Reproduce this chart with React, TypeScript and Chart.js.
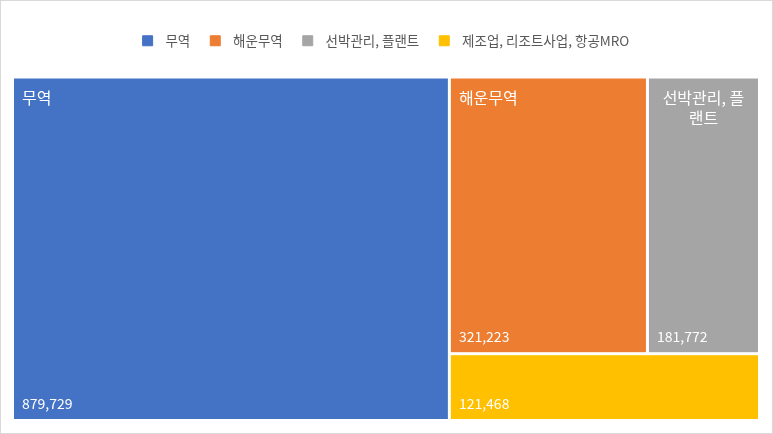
import React, { useEffect, useRef } from 'react';
import { Chart, registerables } from 'chart.js';

Chart.register(...registerables);

const categories = ['무역', '해운무역', '선박관리, 플랜트', '제조업, 리조트사업, 항공MRO'];
const values = [879729, 321223, 181772, 121468];
const colors = ['#4472C4', '#ED7D31', '#A5A5A5', '#FFC000'];
// nesting of the treemap cells; split direction alternates x, y, x ...
const groups: any[] = [[0], [[1, 2], [3]]];

const FONT = '"Noto Sans CJK KR", "Noto Sans", sans-serif';

type Cell = { i: number; x0: number; y0: number; x1: number; y1: number };

function sumNode(n: any): number {
  return typeof n === 'number' ? values[n] : n.reduce((s: number, c: any) => s + sumNode(c), 0);
}

function layout(n: any, x0: number, y0: number, x1: number, y1: number, depth: number, out: Cell[]) {
  if (typeof n === 'number') {
    out.push({ i: n, x0, y0, x1, y1 });
    return;
  }
  const total = sumNode(n);
  let acc = 0;
  n.forEach((c: any) => {
    const s = sumNode(c);
    if (depth % 2 === 0) {
      layout(c, x0 + ((x1 - x0) * acc) / total, y0, x0 + ((x1 - x0) * (acc + s)) / total, y1, depth + 1, out);
    } else {
      layout(c, x0, y0 + ((y1 - y0) * acc) / total, x1, y0 + ((y1 - y0) * (acc + s)) / total, depth + 1, out);
    }
    acc += s;
  });
}

function wrapText(ctx: CanvasRenderingContext2D, text: string, maxW: number): string[] {
  const lines: string[] = [];
  let cur = '';
  for (const ch of Array.from(text)) {
    const t = cur + ch;
    if (ctx.measureText(t).width > maxW && cur.length > 0) {
      lines.push(cur.trim());
      cur = ch.trim();
    } else {
      cur = t;
    }
  }
  if (cur) lines.push(cur.trim());
  return lines;
}

const treemapPlugin = {
  id: 'treemapCells',
  afterDatasetsDraw(chart: any) {
    const { ctx, scales } = chart;
    const xs = scales.x;
    const ys = scales.y;
    const cells: Cell[] = [];
    layout(groups, 0, 0, 1, 1, 0, cells);
    const gap = 1.5;
    ctx.save();
    cells.forEach((c) => {
      const left = xs.getPixelForValue(c.x0) + gap;
      const right = xs.getPixelForValue(c.x1) - gap;
      const top = ys.getPixelForValue(c.y0) + gap;
      const bottom = ys.getPixelForValue(c.y1) - gap;
      ctx.fillStyle = colors[c.i];
      ctx.fillRect(left, top, right - left, bottom - top);

      ctx.fillStyle = '#FFFFFF';
      // category name
      if (bottom - top > 80) {
        ctx.font = `16px ${FONT}`;
        ctx.textBaseline = 'middle';
        const lines = wrapText(ctx, categories[c.i], right - left - 16);
        lines.forEach((ln, k) => {
          const y = top + 19 + k * 20;
          if (lines.length > 1) {
            ctx.textAlign = 'center';
            ctx.fillText(ln, (left + right) / 2, y);
          } else {
            ctx.textAlign = 'left';
            ctx.fillText(ln, left + 8, y);
          }
        });
      }
      // value
      ctx.font = `14px ${FONT}`;
      ctx.textAlign = 'left';
      ctx.textBaseline = 'alphabetic';
      ctx.fillText(values[c.i].toLocaleString('en-US'), left + 8, bottom - 10);
    });
    ctx.restore();
  },
};

export default function App() {
  const canvasRef = useRef<HTMLCanvasElement | null>(null);

  useEffect(() => {
    if (!canvasRef.current) return;
    const chart = new Chart(canvasRef.current, {
      type: 'scatter',
      data: {
        datasets: categories.map((name, i) => ({
          label: name,
          data: [],
          backgroundColor: colors[i],
          borderColor: colors[i],
          borderWidth: 1,
        })),
      },
      options: {
        animation: false,
        responsive: true,
        maintainAspectRatio: false,
        layout: { padding: { top: 13, left: 11.5, right: 12.5, bottom: 12.5 } },
        scales: {
          x: {
            type: 'linear',
            position: 'top',
            min: 0,
            max: 1,
            display: true,
            ticks: { display: false },
            grid: { display: false },
            border: { display: false },
            afterFit: (s: any) => {
              s.height = 19.5;
            },
          },
          y: {
            type: 'linear',
            min: 0,
            max: 1,
            reverse: true,
            display: false,
          },
        },
        plugins: {
          tooltip: { enabled: false },
          legend: {
            display: true,
            position: 'top',
            labels: {
              boxWidth: 10,
              boxHeight: 10,
              padding: 20,
              color: '#595959',
              font: { family: FONT, size: 13.5 },
              generateLabels: (ch: any) =>
                (Chart.defaults.plugins.legend.labels as any)
                  .generateLabels(ch)
                  .map((l: any) => ({ ...l, text: '  ' + l.text })),
            },
          },
        },
      },
      plugins: [treemapPlugin],
    } as any);
    return () => chart.destroy();
  }, []);

  return (
    <div
      style={{
        position: 'fixed',
        left: 0,
        top: 0,
        width: 773,
        height: 434,
        boxSizing: 'border-box',
        border: '1px solid #D9D9D9',
        background: '#FFFFFF',
      }}
    >
      <canvas ref={canvasRef} />
    </div>
  );
}
